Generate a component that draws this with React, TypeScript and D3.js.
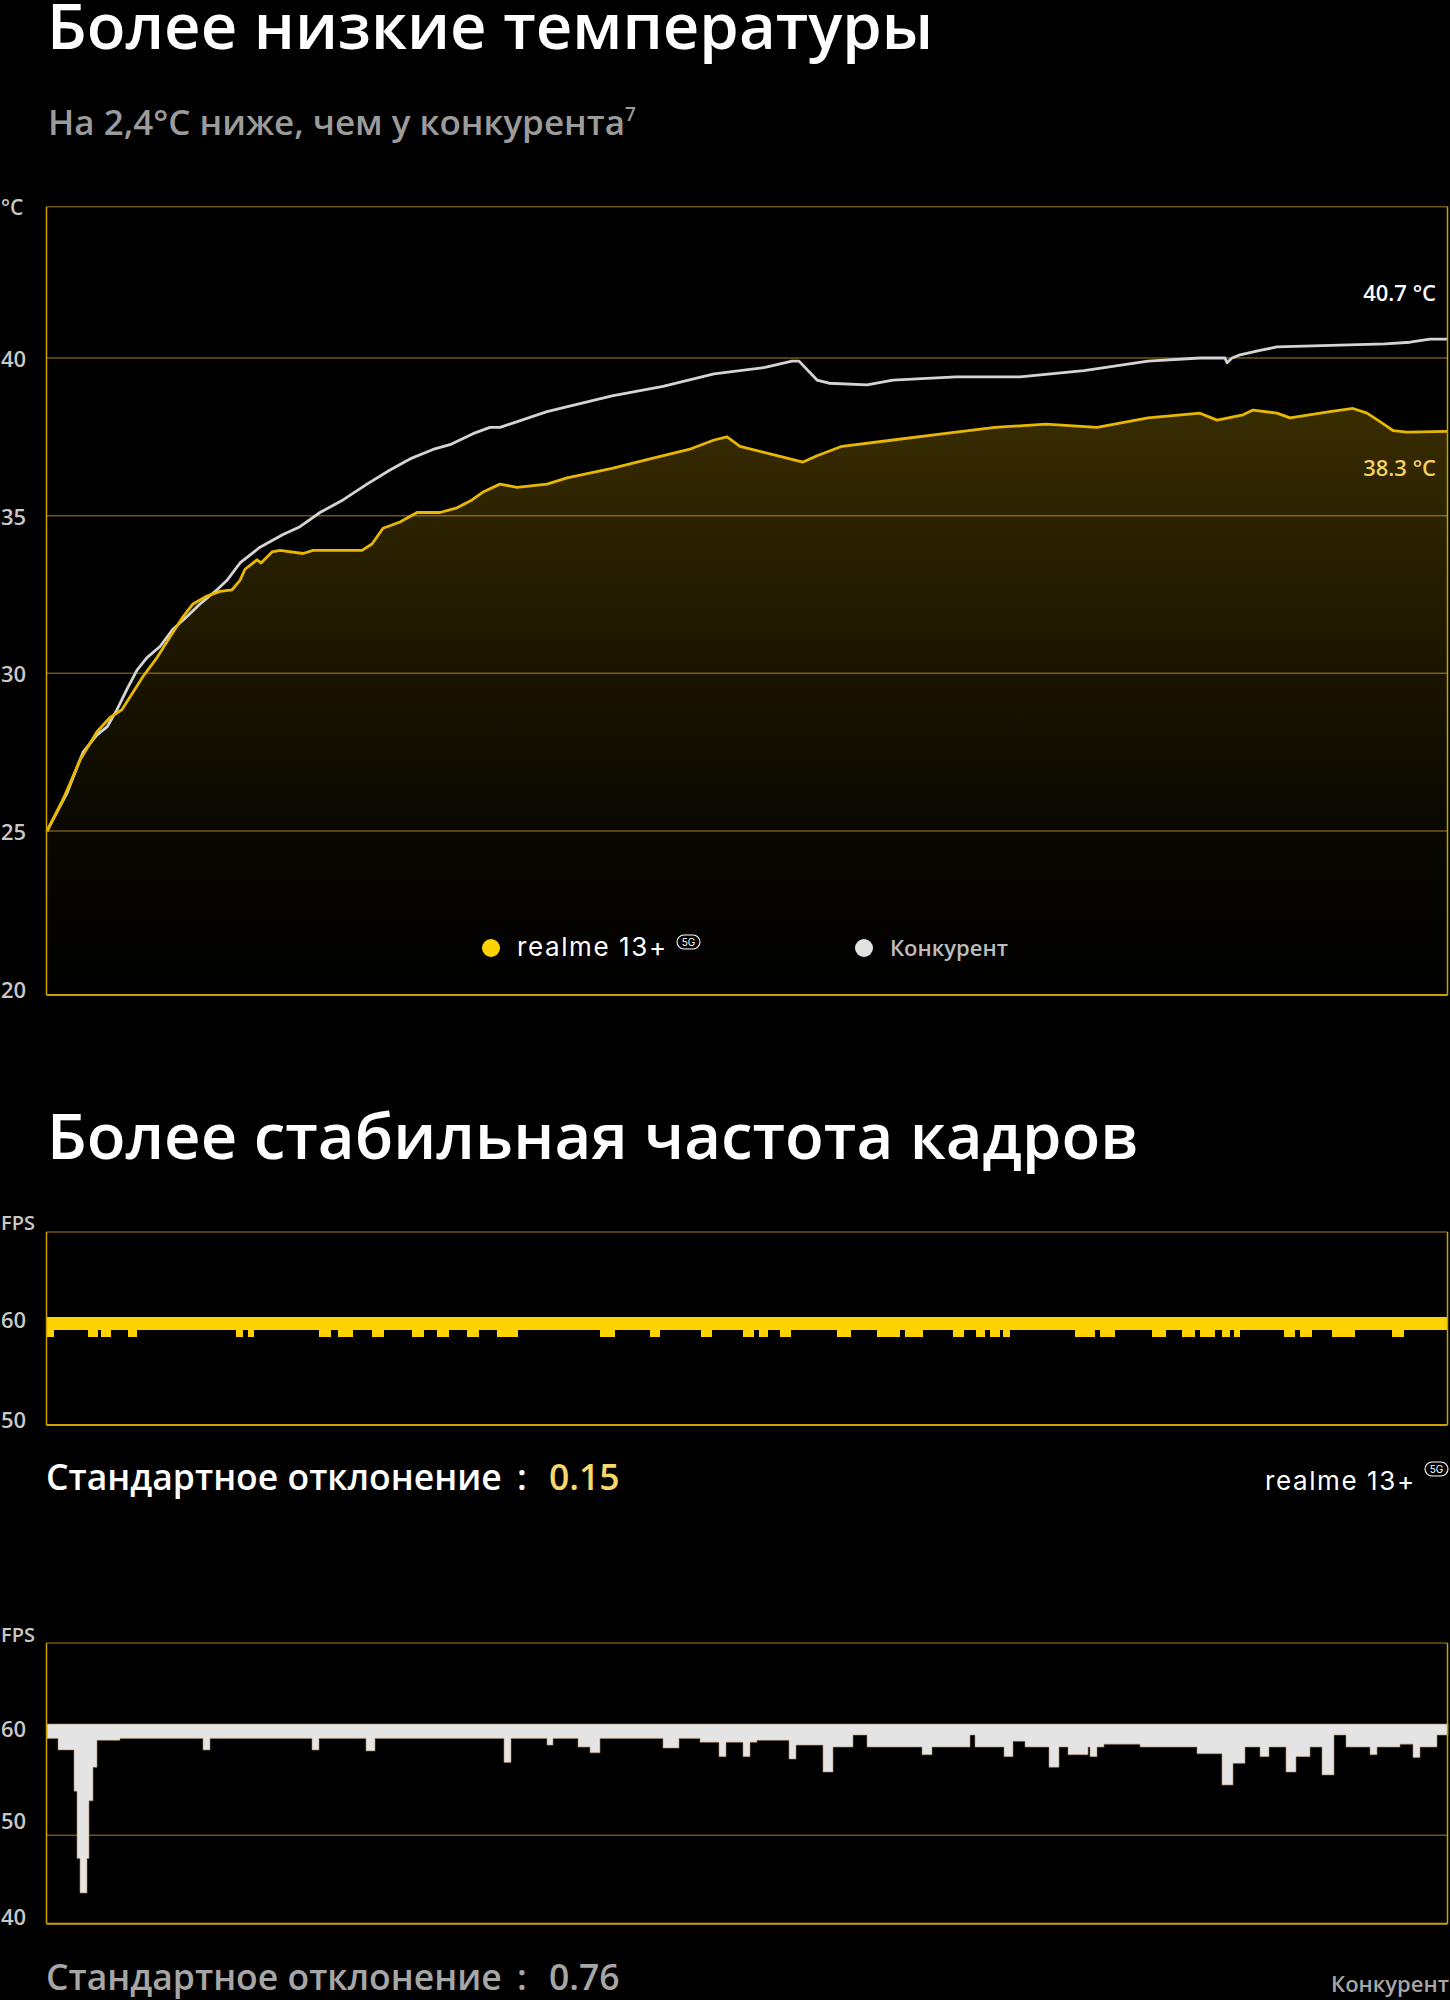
import React from 'react'
import * as d3 from 'd3'

// ---- temperature test (t = sample position, value in °C) ----
const tempTicks = [20, 25, 30, 35, 40]
const realmeTemp: [number, number][] = [
  [0, 25.0], [16, 26.0], [33, 27.25], [50, 28.15], [63, 28.6], [75, 28.85], [86, 29.4],
  [96, 29.9], [110, 30.5], [126, 31.3], [135, 31.75], [146, 32.2], [160, 32.45], [173, 32.6],
  [185, 32.65], [193, 32.95], [198, 33.3], [210, 33.6], [214, 33.5], [225, 33.85], [233, 33.9],
  [256, 33.8], [266, 33.9], [315, 33.9], [325, 34.1], [336, 34.6], [353, 34.8], [370, 35.1],
  [393, 35.1], [410, 35.25], [425, 35.5], [436, 35.75], [453, 36.0], [470, 35.9], [500, 36.0],
  [520, 36.2], [565, 36.5], [603, 36.8], [642, 37.1], [667, 37.4], [680, 37.5], [693, 37.2],
  [718, 37.0], [756, 36.7], [770, 36.9], [795, 37.2], [846, 37.4], [897, 37.6], [948, 37.8],
  [999, 37.9], [1050, 37.8], [1101, 38.1], [1153, 38.25], [1170, 38.03], [1196, 38.2],
  [1206, 38.35], [1230, 38.25], [1243, 38.1], [1283, 38.3], [1306, 38.4], [1320, 38.25],
  [1333, 37.98], [1346, 37.7], [1360, 37.65], [1400, 37.67]
]
const rivalTemp: [number, number][] = [
  [0, 25.0], [20, 26.2], [36, 27.5], [50, 28.05], [60, 28.3], [70, 28.85], [80, 29.5],
  [90, 30.1], [100, 30.5], [113, 30.85], [126, 31.4], [140, 31.8], [153, 32.2], [170, 32.65],
  [180, 32.95], [193, 33.5], [213, 34.0], [236, 34.4], [253, 34.65], [273, 35.1], [296, 35.5],
  [320, 36.0], [343, 36.45], [363, 36.8], [386, 37.1], [403, 37.25], [426, 37.6], [443, 37.8],
  [453, 37.8], [500, 38.3], [565, 38.8], [616, 39.1], [667, 39.5], [718, 39.7], [745, 39.9],
  [752, 39.9], [770, 39.3], [782, 39.2], [820, 39.15], [846, 39.3], [909, 39.4], [973, 39.4],
  [1037, 39.6], [1101, 39.9], [1153, 40.0], [1178, 40.0], [1180, 39.85], [1185, 40.0],
  [1193, 40.1], [1213, 40.24], [1230, 40.35], [1338, 40.45], [1363, 40.5], [1383, 40.6],
  [1400, 40.6]
]
const realmeEndLabel = '38.3 °C'
const rivalEndLabel = '40.7 °C'

// ---- frame rate test: lower edge of the band, change points [t, fps] ----
const fpsTop = 60
const realmeFps: [number, number][] = [
  [0, 58.0], [7, 58.7], [41, 58.0], [51, 58.7], [54, 58.0], [64, 58.7], [81, 58.0], [90, 58.7],
  [189, 58.0], [196, 58.7], [201, 58.0], [207, 58.7], [272, 58.0], [284, 58.7], [291, 58.0],
  [306, 58.7], [325, 58.0], [337, 58.7], [365, 58.0], [377, 58.7], [390, 58.0], [402, 58.7],
  [420, 58.0], [432, 58.7], [450, 58.0], [471, 58.7], [553, 58.0], [568, 58.7], [603, 58.0],
  [613, 58.7], [654, 58.0], [665, 58.7], [696, 58.0], [707, 58.7], [712, 58.0], [721, 58.7],
  [733, 58.0], [744, 58.7], [790, 58.0], [804, 58.7], [830, 58.0], [853, 58.7], [858, 58.0],
  [876, 58.7], [906, 58.0], [917, 58.7], [929, 58.0], [938, 58.7], [943, 58.0], [953, 58.7],
  [956, 58.0], [963, 58.7], [1028, 58.0], [1048, 58.7], [1053, 58.0], [1068, 58.7],
  [1105, 58.0], [1119, 58.7], [1135, 58.0], [1148, 58.7], [1153, 58.0], [1168, 58.7],
  [1175, 58.0], [1183, 58.7], [1187, 58.0], [1193, 58.7], [1237, 58.0], [1248, 58.7],
  [1253, 58.0], [1265, 58.7], [1285, 58.0], [1308, 58.7], [1345, 58.0], [1357, 58.7],
  [1401, 58.8]
]
const rivalFps: [number, number][] = [
  [0, 58.5], [11, 57.3], [27, 53], [30, 46], [33, 42.4], [40, 46], [42, 52], [46, 55.5],
  [50, 58.3], [73, 58.5], [156, 57.3], [163, 58.5], [265, 57.3], [272, 58.5], [319, 57.2],
  [328, 58.5], [457, 56.0], [464, 58.5], [500, 57.8], [506, 58.5], [531, 57.6], [543, 57.0],
  [553, 58.5], [616, 57.5], [632, 58.5], [653, 58.1], [672, 56.6], [679, 58.1], [696, 56.6],
  [703, 58.1], [710, 58.3], [742, 56.35], [749, 57.8], [776, 55.0], [786, 57.6], [806, 58.85],
  [820, 57.6], [875, 56.8], [885, 57.6], [923, 58.85], [928, 57.6], [957, 56.6], [966, 58.2],
  [978, 57.6], [1002, 55.5], [1012, 57.6], [1021, 56.8], [1041, 57.6], [1043, 56.6],
  [1050, 57.6], [1057, 57.9], [1093, 57.6], [1150, 56.9], [1175, 53.65], [1186, 55.9],
  [1198, 57.6], [1213, 56.6], [1222, 57.6], [1239, 55.0], [1249, 56.6], [1263, 57.6],
  [1275, 54.7], [1287, 58.85], [1299, 57.6], [1323, 56.8], [1330, 57.6], [1353, 57.9],
  [1366, 56.5], [1373, 57.6], [1390, 58.85], [1401, 58.85]
]
const realmeFpsTicks = [60, 50]
const rivalFpsTicks = [60, 50, 40]
const realmeStd = '0.15'
const rivalStd = '0.76'

const FONT = '"Open Sans", "Noto Sans", sans-serif'
const BRAND = 'Inter, Lato, sans-serif'
const GOLD = '#c9a200'
const GOLD_DIM = '#6f5414'

function Badge({ x, y }: { x: number; y: number }) {
  return (
    <g transform={`translate(${x},${y})`}>
      <rect x={0} y={0} width={23} height={14} rx={7} fill="none" stroke="#fff" strokeWidth={1.1} />
      <text x={11.5} y={10.5} textAnchor="middle" fontSize={10} fontFamily={BRAND} fill="#fff">5G</text>
    </g>
  )
}

function Brand({ x, y, badgeY }: { x: number; y: number; badgeY: number }) {
  return (
    <g>
      <text x={x} y={y} fontFamily={BRAND} fontWeight={400} fontSize={26} letterSpacing={1.6} fill="#fff">realme 13+</text>
      <Badge x={x + 160} y={badgeY} />
    </g>
  )
}

function StdDev({ y, value, color, valueColor }: { y: number; value: string; color: string; valueColor: string }) {
  return (
    <g fontFamily={FONT} fontWeight={600} fontSize={35.5}>
      <text x={46} y={y} fill={color}>Стандартное отклонение</text>
      <text x={517} y={y} fill={color}>:</text>
      <text x={549} y={y} fill={valueColor}>{value}</text>
    </g>
  )
}

export default function App() {
  const x = d3.scaleLinear().domain([0, 1400]).range([47, 1447])
  const left = 46.5
  const right = 1447.5

  // temperature chart
  const yT = d3.scaleLinear().domain([25, 40]).range([831, 358])
  const tTop = yT(44.8)
  const tBottom = yT(19.8)
  const tLine = d3.line<[number, number]>().x(d => x(d[0])).y(d => yT(d[1]))
  const tArea = d3.area<[number, number]>().x(d => x(d[0])).y0(tBottom).y1(d => yT(d[1]))

  // fps charts
  const yF1 = d3.scaleLinear().domain([50, 60]).range([1417, 1317])
  const f1Top = yF1(68.5)
  const f1Bottom = yF1(49.2)
  const yF2 = d3.scaleLinear().domain([40, 60]).range([1916, 1724])
  const f2Top = yF2(68.45)
  const f2Bottom = yF2(39.2)
  const f2Grid = yF2(48.4)

  const band = (ys: d3.ScaleLinear<number, number>) =>
    d3.area<[number, number]>()
      .curve(d3.curveStepAfter)
      .x(d => x(d[0]))
      .y0(d => ys(d[1]))
      .y1(ys(fpsTop))

  const frame = (top: number, bottom: number, key: string) => (
    <g key={key}>
      <line x1={left} x2={right} y1={top} y2={top} stroke={GOLD_DIM} strokeWidth={1.5} />
      <line x1={left} x2={left} y1={top} y2={bottom} stroke={GOLD} strokeWidth={1.5} />
      <line x1={right} x2={right} y1={top} y2={bottom} stroke={GOLD} strokeWidth={1.5} />
      <line x1={left} x2={right} y1={bottom} y2={bottom} stroke={GOLD} strokeWidth={2} />
    </g>
  )

  return (
    <svg width={1450} height={2000} style={{ position: 'absolute', left: 0, top: 0, display: 'block' }}>
      <defs>
        <linearGradient id="warm" gradientUnits="userSpaceOnUse" x1={0} x2={0} y1={yT(40)} y2={tBottom}>
          <stop offset="0%" stopColor="#e6b400" stopOpacity={0.27} />
          <stop offset="70%" stopColor="#e6b400" stopOpacity={0.05} />
          <stop offset="100%" stopColor="#e6b400" stopOpacity={0} />
        </linearGradient>
      </defs>
      <rect width={1450} height={2000} fill="#000" />

      {/* headings */}
      <text x={47} y={49} fontFamily={FONT} fontWeight={600} fontSize={63.5} fill="#fff">Более низкие температуры</text>
      <text x={48} y={135} fontFamily={FONT} fontWeight={600} fontSize={35} fill="#9b9b9b">
        На 2,4°С ниже, чем у конкурента<tspan fontSize={19} dy={-14}>7</tspan>
      </text>

      {/* temperature chart */}
      {tempTicks.filter(v => v > 20).map(v => (
        <line key={v} x1={left} x2={right} y1={yT(v)} y2={yT(v)} stroke={GOLD_DIM} strokeWidth={1.5} />
      ))}
      <path d={tArea(realmeTemp) || ''} fill="url(#warm)" />
      <path d={tLine(rivalTemp) || ''} fill="none" stroke="#d4d4d4" strokeWidth={2.8} strokeLinejoin="round" />
      <path d={tLine(realmeTemp) || ''} fill="none" stroke="#e8b700" strokeWidth={2.8} strokeLinejoin="round" />
      {frame(tTop, tBottom, 'tf')}
      <text x={1} y={tTop} dominantBaseline="central" fontFamily={FONT} fontWeight={600} fontSize={21} fill="#c8c8c8">°C</text>
      {tempTicks.map(v => (
        <text key={v} x={1} y={yT(v)} dominantBaseline="central" fontFamily={FONT} fontWeight={600} fontSize={22} fill="#c8c8c8">{v}</text>
      ))}
      <text x={1436} y={yT(40.7) - 44} textAnchor="end" dominantBaseline="central" fontFamily={FONT} fontWeight={600} fontSize={22} fill="#fff">{rivalEndLabel}</text>
      <text x={1436} y={yT(38.3) + 55} textAnchor="end" dominantBaseline="central" fontFamily={FONT} fontWeight={600} fontSize={22} fill="#f3d060">{realmeEndLabel}</text>

      {/* legend */}
      <circle cx={491} cy={948} r={9} fill="#ffd200" />
      <Brand x={517} y={956} badgeY={935} />
      <circle cx={864} cy={948} r={9} fill="#e2e2e2" />
      <text x={890} y={956} fontFamily={FONT} fontWeight={600} fontSize={22} fill="#bdbdbd">Конкурент</text>

      {/* frame rate */}
      <text x={47} y={1159} fontFamily={FONT} fontWeight={600} fontSize={63.5} fill="#fff">Более стабильная частота кадров</text>

      {/* realme fps */}
      <path d={band(yF1)(realmeFps) || ''} fill="#ffd200" />
      {frame(f1Top, f1Bottom, 'f1')}
      <text x={1} y={f1Top - 10} dominantBaseline="central" fontFamily={FONT} fontWeight={600} fontSize={20} fill="#c8c8c8">FPS</text>
      {realmeFpsTicks.map(v => (
        <text key={v} x={1} y={yF1(v) + 2} dominantBaseline="central" fontFamily={FONT} fontWeight={600} fontSize={22} fill="#c8c8c8">{v}</text>
      ))}
      <StdDev y={1490} value={realmeStd} color="#fff" valueColor="#f6d76a" />
      <Brand x={1265} y={1490} badgeY={1462} />

      {/* rival fps */}
      <line x1={left} x2={right} y1={f2Grid} y2={f2Grid} stroke={GOLD_DIM} strokeWidth={1.5} />
      <path d={band(yF2)(rivalFps) || ''} fill="#e4e4e4" stroke="#b08a60" strokeWidth={0.6} />
      {frame(f2Top, f2Bottom, 'f2')}
      <text x={1} y={f2Top - 8} dominantBaseline="central" fontFamily={FONT} fontWeight={600} fontSize={20} fill="#c8c8c8">FPS</text>
      {rivalFpsTicks.map(v => (
        <text key={v} x={1} y={yF2(v) + (v === 60 ? 4 : 0)} dominantBaseline="central" fontFamily={FONT} fontWeight={600} fontSize={22} fill="#c8c8c8">{v}</text>
      ))}
      <StdDev y={1990} value={rivalStd} color="#a6a6a6" valueColor="#a6a6a6" />
      <text x={1449} y={1992} textAnchor="end" fontFamily={FONT} fontWeight={600} fontSize={22} fill="#a6a6a6">Конкурент</text>
    </svg>
  )
}
